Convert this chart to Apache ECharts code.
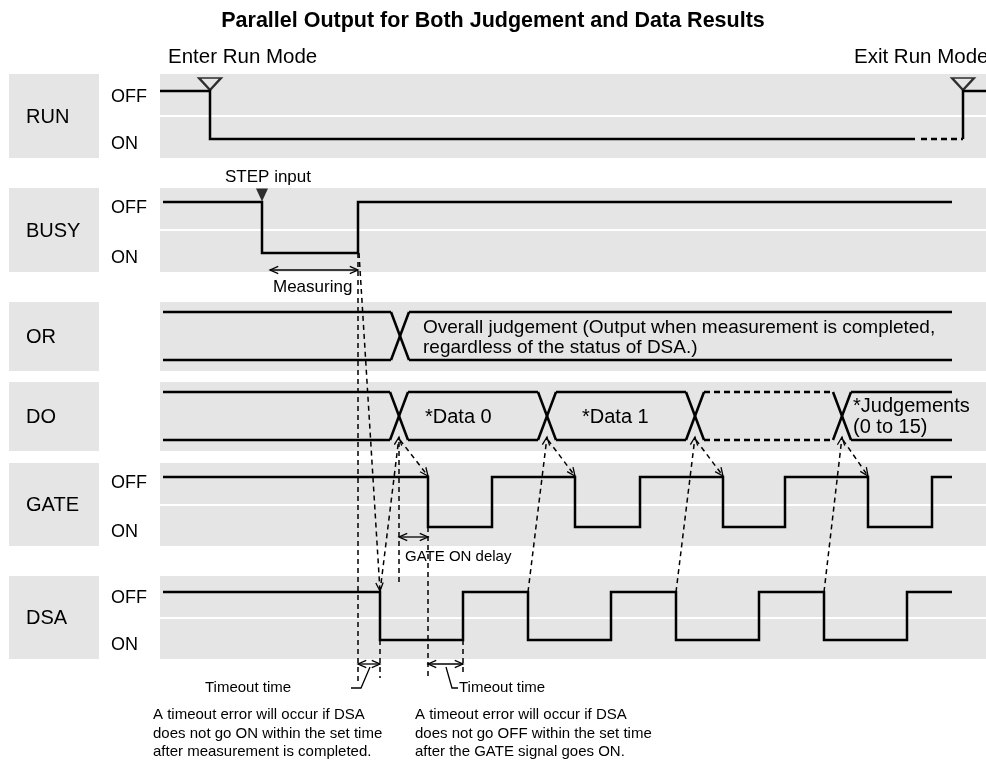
<!DOCTYPE html>
<html><head><meta charset="utf-8">
<script src="https://cdn.jsdelivr.net/npm/echarts@6/dist/echarts.min.js"></script>
<style>html,body{margin:0;padding:0;background:#fff}#c{width:986px;height:778px}</style>
</head><body><div id="c"></div>
<script>
// ---------------- data ----------------
const titleText = 'Parallel Output for Both Judgement and Data Results';
const signalNames = ['RUN', 'BUSY', 'OR', 'DO', 'GATE', 'DSA'];
const levelNames = ['OFF', 'ON'];
const modeLabels = ['Enter Run Mode', 'Exit Run Mode'];
const runStart = 160, runEnd = 986;
const runTransitions = [210, 963];
const runDashFrom = 915;
const traceStart = 163, traceEnd = 952;
const busyTransitions = [262, 358];
const orCrossings = [400];
const doCrossings = [399, 547, 695, 842];
const doDashedInterval = 3;
const gateTransitions = [428, 492, 575, 640, 723, 785, 868, 932];
const dsaTransitions = [380, 463, 528, 611, 676, 759, 824, 907];
const orLabel = 'Overall judgement (Output when measurement is completed,\nregardless of the status of DSA.)';
const doLabels = ['*Data 0', '*Data 1', '', '*Judgements\n(0 to 15)'];
const eventLabels = ['STEP input', 'Measuring', 'GATE ON delay', 'Timeout time'];
const notes = [
  'A timeout error will occur if DSA\ndoes not go ON within the set time\nafter measurement is completed.',
  'A timeout error will occur if DSA\ndoes not go OFF within the set time\nafter the GATE signal goes ON.'
];

// ---------------- layout ----------------
const FONT = '"Liberation Sans", Arial, Helvetica, sans-serif';
const L = {
  RUN:  {top: 74, bot: 158, split: 116, hi: 91,  lo: 139},
  BUSY: {top: 188, bot: 272, split: 230, hi: 202, lo: 253},
  OR:   {top: 302, bot: 371, split: null, hi: 312, lo: 360},
  DO:   {top: 382, bot: 451, split: null, hi: 392, lo: 440},
  GATE: {top: 463, bot: 546, split: 505, hi: 477, lo: 527},
  DSA:  {top: 576, bot: 659, split: 618, hi: 592, lo: 640}
};
const BOX_X = [9, 99], LANE_X = [160, 986];
const CROSS_W = 9;

const series = [];

// gray bands and label boxes
const bandRects = [];
signalNames.forEach(n => {
  const l = L[n];
  bandRects.push([BOX_X[0], l.top, BOX_X[1], l.bot]);
  if (l.split) {
    bandRects.push([LANE_X[0], l.top, LANE_X[1], l.split - 1]);
    bandRects.push([LANE_X[0], l.split + 1, LANE_X[1], l.bot]);
  } else {
    bandRects.push([LANE_X[0], l.top, LANE_X[1], l.bot]);
  }
});
series.push({
  type: 'custom', z: 1, silent: true, clip: false, data: bandRects,
  encode: {x: [0, 2], y: [1, 3]},
  renderItem: (p, api) => {
    const a = api.coord([api.value(0), api.value(1)]);
    const b = api.coord([api.value(2), api.value(3)]);
    return {type: 'rect', shape: {x: a[0], y: a[1], width: b[0] - a[0], height: b[1] - a[1]}, style: {fill: '#e5e5e5'}};
  }
});

// traces
function addTrace(pts, dashed) {
  series.push({
    type: 'line', data: pts, symbol: 'none', clip: false, z: 3, silent: true,
    lineStyle: {color: '#000', width: 2.5, type: dashed ? [6, 4] : 'solid', cap: 'butt', join: 'miter'}
  });
}
function digitalPath(lane, start, trans, end) {
  const l = L[lane];
  let lvl = 'hi';
  const pts = [[start, l[lvl]]];
  trans.forEach(t => {
    pts.push([t, l[lvl]]);
    lvl = lvl === 'hi' ? 'lo' : 'hi';
    pts.push([t, l[lvl]]);
  });
  pts.push([end, l[lvl]]);
  return pts;
}
// RUN: solid, dashed continuation, then exit
addTrace(digitalPath('RUN', runStart, [runTransitions[0]], runDashFrom), false);
addTrace([[runDashFrom + 6, L.RUN.lo], [runTransitions[1], L.RUN.lo]], true);
addTrace([[runTransitions[1], L.RUN.lo], [runTransitions[1], L.RUN.hi], [runEnd, L.RUN.hi]], false);
addTrace(digitalPath('BUSY', traceStart, busyTransitions, traceEnd), false);
addTrace(digitalPath('GATE', traceStart, gateTransitions, traceEnd), false);
addTrace(digitalPath('DSA', traceStart, dsaTransitions, traceEnd), false);

function busTrace(lane, crosses, dashedIdx) {
  const l = L[lane];
  const bounds = [traceStart].concat(crosses).concat([traceEnd]);
  for (let k = 0; k < bounds.length - 1; k++) {
    const x0 = k === 0 ? bounds[k] : bounds[k] + CROSS_W;
    const x1 = k === bounds.length - 2 ? bounds[k + 1] : bounds[k + 1] - CROSS_W;
    const d = k === dashedIdx;
    addTrace([[x0, l.hi], [x1, l.hi]], d);
    addTrace([[x0, l.lo], [x1, l.lo]], d);
  }
  crosses.forEach(c => {
    addTrace([[c - CROSS_W, l.hi], [c + CROSS_W, l.lo]], false);
    addTrace([[c - CROSS_W, l.lo], [c + CROSS_W, l.hi]], false);
  });
}
busTrace('OR', orCrossings, -1);
busTrace('DO', doCrossings, doDashedInterval);

// mode triangles and STEP trigger
series.push({
  type: 'scatter', z: 5, silent: true, symbol: 'triangle', symbolRotate: 180, symbolSize: [22, 12],
  data: runTransitions.map(t => [t, L.RUN.hi - 7]),
  itemStyle: {color: 'rgba(0,0,0,0)', borderColor: '#000', borderWidth: 2.2}
});
series.push({
  type: 'scatter', z: 5, silent: true, symbol: 'triangle', symbolRotate: 180, symbolSize: [12, 13],
  data: [[busyTransitions[0], L.BUSY.hi - 7]],
  itemStyle: {color: '#000'}
});

// annotation connectors
const ann = [];
const dash = (pts, head) => ann.push({pts, dashed: true, head: head || 'none', w: 1.5});
const solid = (pts, head) => ann.push({pts, dashed: false, head: head || 'none', w: 1.3});
const bRise = busyTransitions[1];
dash([[bRise + 1, L.BUSY.lo], [dsaTransitions[0], L.DSA.hi - 1]], 'end');
doCrossings.forEach((c, i) => {
  dash([[dsaTransitions[2 * i], L.DSA.hi], [c, L.DO.lo - 3]], 'end');
  dash([[c + 1, L.DO.lo], [gateTransitions[2 * i], L.GATE.hi - 1]], 'end');
});
dash([[bRise, L.BUSY.lo], [bRise, 684]]);
dash([[doCrossings[0], L.DO.lo + 2], [doCrossings[0], 584]]);
dash([[gateTransitions[0], L.GATE.lo], [gateTransitions[0], 680]]);
dash([[dsaTransitions[0], L.DSA.lo], [dsaTransitions[0], 678]]);
dash([[dsaTransitions[1], L.DSA.lo], [dsaTransitions[1], 672]]);
solid([[busyTransitions[0] + 8, 270], [bRise, 270]], 'both');
solid([[doCrossings[0], 537], [gateTransitions[0], 537]], 'both');
solid([[bRise, 664], [dsaTransitions[0], 664]], 'both');
solid([[gateTransitions[0], 664], [dsaTransitions[1], 664]], 'both');
solid([[351, 688], [361, 688], [370, 667]]);
solid([[446, 667], [452, 688], [458, 688]]);

function head(p1, p0) {
  const dx = p1[0] - p0[0], dy = p1[1] - p0[1];
  const len = Math.hypot(dx, dy), ux = dx / len, uy = dy / len;
  const Lh = 9, ang = 0.42, c = Math.cos(ang), s = Math.sin(ang);
  return [
    [p1[0] - Lh * (ux * c - uy * s), p1[1] - Lh * (uy * c + ux * s)],
    [p1[0], p1[1]],
    [p1[0] - Lh * (ux * c + uy * s), p1[1] - Lh * (uy * c - ux * s)]
  ];
}
series.push({
  type: 'custom', z: 4, silent: true, clip: false,
  data: ann.map((a, i) => [a.pts[0][0], a.pts[0][1], i]),
  renderItem: (p, api) => {
    const a = ann[api.value(2)];
    const pts = a.pts.map(q => api.coord(q));
    const children = [{
      type: 'polyline', shape: {points: pts},
      style: {stroke: '#000', lineWidth: a.w, fill: null, lineDash: a.dashed ? [5, 4] : null}
    }];
    const hs = {stroke: '#000', lineWidth: 1.3, fill: null};
    if (a.head === 'end' || a.head === 'both') children.push({type: 'polyline', shape: {points: head(pts[pts.length - 1], pts[pts.length - 2])}, style: hs});
    if (a.head === 'both') children.push({type: 'polyline', shape: {points: head(pts[0], pts[1])}, style: hs});
    return {type: 'group', children};
  }
});

// texts
const texts = [];
const T = (x, y, text, size, opt) => texts.push(Object.assign({x, y, text, size, align: 'left', va: 'middle', lh: null, weight: 'normal'}, opt || {}));
signalNames.forEach(n => T(26, (L[n].top + L[n].bot) / 2 + 1, n, 20));
['RUN', 'BUSY', 'GATE', 'DSA'].forEach(n => {
  T(111, L[n].hi + 6, levelNames[0], 18);
  T(111, L[n].lo + 5, levelNames[1], 18);
});
T(168, 57, modeLabels[0], 20.5);
T(854, 57, modeLabels[1], 20.5);
T(busyTransitions[0] + 6, 177, eventLabels[0], 17, {align: 'center'});
T(273, 287, eventLabels[1], 17);
T(423, 338, orLabel, 19, {lh: 20});
const doLabelX = [425, 582, 0, 853];
doLabels.forEach((s, i) => { if (s) T(doLabelX[i], (L.DO.hi + L.DO.lo) / 2 + 1, s, 20, {lh: 21}); });
T(405, 557, eventLabels[2], 15);
T(205, 688, eventLabels[3], 15);
T(459, 688, eventLabels[3], 15);
T(153, 706, notes[0], 15, {va: 'top', lh: 18.5});
T(415, 706, notes[1], 15, {va: 'top', lh: 18.5});

series.push({
  type: 'custom', z: 6, silent: true, clip: false,
  data: texts.map((t, i) => [t.x, t.y, i]),
  renderItem: (p, api) => {
    const t = texts[api.value(2)];
    const c = api.coord([t.x, t.y]);
    const st = {text: t.text, fill: '#000', fontSize: t.size, fontFamily: FONT, fontWeight: t.weight, align: t.align, verticalAlign: t.va};
    if (t.lh) st.lineHeight = t.lh;
    return {type: 'text', x: c[0], y: c[1], style: st};
  }
});

const chart = echarts.init(document.getElementById('c'), null, {renderer: 'canvas'});
chart.setOption({
  animation: false,
  backgroundColor: '#fff',
  title: {text: titleText, left: 'center', top: 5, textStyle: {fontSize: 21.5, fontWeight: 'bold', fontFamily: FONT, color: '#000'}},
  grid: {left: 0, right: 0, top: 0, bottom: 0},
  xAxis: {type: 'value', min: 0, max: 986, show: false},
  yAxis: {type: 'value', min: 0, max: 778, inverse: true, show: false},
  series
});
</script></body></html>
